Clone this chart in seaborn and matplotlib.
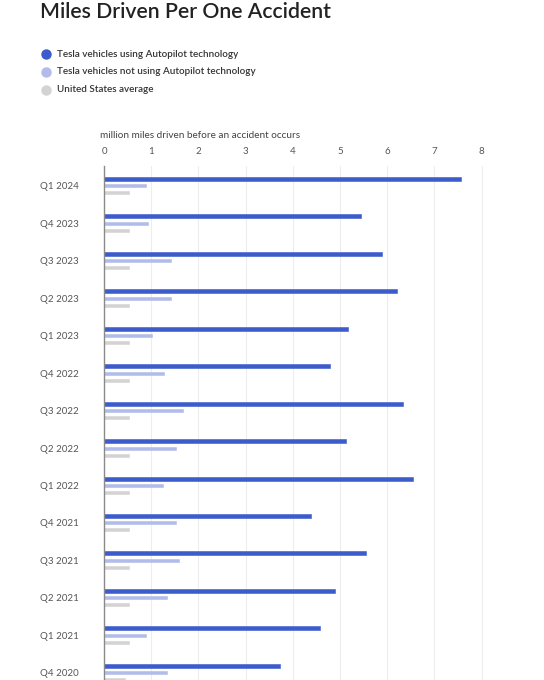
import matplotlib
matplotlib.use("Agg")
import matplotlib.pyplot as plt
from matplotlib.lines import Line2D
import numpy as np
import pandas as pd
import seaborn as sns

# ---- data ----
quarters = ["Q1 2024", "Q4 2023", "Q3 2023", "Q2 2023", "Q1 2023", "Q4 2022", "Q3 2022",
            "Q2 2022", "Q1 2022", "Q4 2021", "Q3 2021", "Q2 2021", "Q1 2021", "Q4 2020"]
autopilot = [7.56, 5.44, 5.90, 6.20, 5.16, 4.79, 6.33, 5.12, 6.54, 4.39, 5.56, 4.90, 4.58, 3.73]
no_autopilot = [0.90, 0.93, 1.43, 1.41, 1.02, 1.28, 1.68, 1.52, 1.24, 1.52, 1.58, 1.33, 0.88, 1.33]
us_average = [0.52, 0.52, 0.52, 0.52, 0.52, 0.52, 0.52, 0.53, 0.53, 0.53, 0.53, 0.53, 0.53, 0.45]
series_names = ["Tesla vehicles using Autopilot technology",
                "Tesla vehicles not using Autopilot technology",
                "United States average"]
x_ticks = [0, 1, 2, 3, 4, 5, 6, 7, 8]

colors = ["#3D5CCB", "#B2BCEA", "#D3D3D3"]

df = pd.DataFrame({
    "quarter": quarters * 3,
    "value": autopilot + no_autopilot + us_average,
    "series": [series_names[0]] * len(quarters) + [series_names[1]] * len(quarters)
              + [series_names[2]] * len(quarters),
})

sns.set_theme(style="white")
plt.rcParams["font.family"] = ["Lato", "DejaVu Sans"]

W, H = 544, 680
fig = plt.figure(figsize=(W / 100, H / 100), dpi=100)

# axes geometry in pixels
ax_left, ax_top = 104, 166
px_per_x = 47.2
px_per_cat = 37.46
xlim = (0, 8.1)
ylim = (13.62, -0.53)
ax_w = (xlim[1] - xlim[0]) * px_per_x
ax_h = (ylim[0] - ylim[1]) * px_per_cat
ax = fig.add_axes([ax_left / W, 1 - (ax_top + ax_h) / H, ax_w / W, ax_h / H])

sns.barplot(data=df, y="quarter", x="value", hue="series", order=quarters,
            hue_order=series_names, palette=colors, orient="h", width=0.56,
            saturation=1, legend=False, ax=ax)

# bar thickness per series (in category units)
thick = [0.105, 0.08, 0.08]
for cont, t, c in zip(ax.containers, thick, colors):
    for bar in cont:
        cy = bar.get_y() + bar.get_height() / 2
        bar.set_height(t)
        bar.set_y(cy - t / 2)
        bar.set_edgecolor(c)
        bar.set_linewidth(0.4)
        bar.set_joinstyle("round")

ax.set_xlim(*xlim)
ax.set_ylim(*ylim)
ax.set_xticks(x_ticks)
ax.xaxis.tick_top()
ax.set_xlabel("")
ax.set_ylabel("")
ax.grid(axis="x", color="#EDEDED", linewidth=0.8)
ax.set_axisbelow(True)
for s in ["top", "right", "bottom"]:
    ax.spines[s].set_visible(False)
ax.spines["left"].set_color("#8A8A8A")
ax.spines["left"].set_linewidth(1.0)
ax.tick_params(axis="x", length=0, pad=7, labelsize=7, labelcolor="#555555")
ax.tick_params(axis="y", length=0, pad=46, labelsize=7, labelcolor="#555555")
for lab in ax.get_yticklabels():
    lab.set_ha("left")

# axis title
fig.text(100 / W, 1 - 135.5 / H, "million miles driven before an accident occurs",
         fontsize=7.2, color="#444444", va="center", ha="left")

# title
fig.text(40 / W, 1 - 17.5 / H, "Miles Driven Per One Accident", fontsize=15.3,
         color="#222222", va="baseline", ha="left", fontweight="semibold")

# legend
leg_y = [54.3, 72.0, 90.0]
for name, c, y in zip(series_names, colors, leg_y):
    fig.add_artist(Line2D([46 / W], [1 - y / H], marker="o", markersize=6.5,
                          linestyle="", color=c, transform=fig.transFigure))
    fig.text(57 / W, 1 - y / H, name, fontsize=7.1, color="#333333",
             va="center", ha="left", fontweight="semibold")

fig.savefig("out.png", dpi=100)
